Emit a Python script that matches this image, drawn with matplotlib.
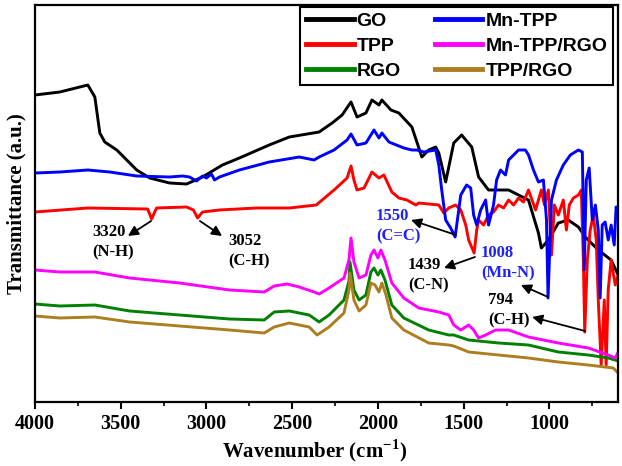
import matplotlib.pyplot as plt
from matplotlib.ticker import MultipleLocator

# spectra (wavenumber, transmittance in a.u. with offsets)
go_wn = [4000, 3855, 3692, 3651, 3622, 3593, 3523, 3407, 3331, 3215, 3116, 3023, 2907, 2808,
         2634, 2517, 2343, 2267, 2209, 2157, 2122, 2070, 2035, 1994, 1977, 1924, 1878, 1802,
         1744, 1704, 1663, 1645, 1605, 1558, 1512, 1453, 1413, 1355, 1238, 1122, 1064, 1047,
         1006, 948, 890, 831, 791, 715, 640, 599]
go_t = [307, 310, 317, 305, 269, 260, 252, 232, 224, 219, 218, 225, 237, 244,
        257, 265, 270, 279, 287, 300, 285, 289, 302, 297, 302, 292, 289, 275,
        245, 252, 255, 249, 220, 259, 267, 255, 225, 212, 212, 202, 169, 154,
        162, 179, 182, 175, 165, 152, 142, 127]

tpp_wn = [4000, 3692, 3343, 3320, 3291, 3116, 3076, 3052, 3023, 2924, 2709, 2517, 2360, 2256,
          2180, 2157, 2140, 2122, 2081, 2035, 1994, 1965, 1919, 1878, 1831, 1779, 1762, 1645,
          1616, 1587, 1547, 1517, 1488, 1471, 1439, 1424, 1413, 1384, 1355, 1326, 1297, 1267,
          1238, 1209, 1180, 1151, 1122, 1081, 1047, 1029, 1006, 988, 971, 948, 919, 901, 884,
          860, 831, 814, 802, 794, 779, 762, 744, 727, 715, 698, 680, 669, 657, 640, 616, 599]
tpp_t = [190, 194, 193, 183, 194, 195, 192, 184, 190, 192, 194, 194, 197, 212,
         224, 236, 222, 212, 214, 230, 224, 227, 210, 204, 202, 197, 199, 197,
         189, 194, 197, 192, 177, 162, 149, 172, 182, 177, 187, 190, 197, 194,
         202, 197, 204, 200, 212, 192, 212, 197, 212, 147, 197, 187, 202, 172, 197,
         204, 207, 212, 142, 70, 142, 172, 187, 162, 102, 37, 102, 37, 112, 142, 117, 127]

rgo_wn = [4000, 3855, 3651, 3448, 3157, 2866, 2663, 2605, 2517, 2401, 2343, 2285, 2198, 2169,
          2163, 2140, 2110, 2070, 2041, 2023, 2000, 1983, 1959, 1919, 1849, 1704, 1587, 1558,
          1471, 1297, 1122, 948, 773, 657, 599]
rgo_t = [98, 96, 97, 91, 87, 83, 82, 90, 91, 87, 80, 87, 102, 121,
         140, 112, 102, 107, 130, 134, 127, 132, 122, 97, 84, 72, 67, 67,
         62, 59, 57, 50, 47, 44, 41]

mntpp_wn = [4000, 3855, 3692, 3564, 3407, 3215, 3140, 3099, 3058, 3023, 3000, 2971, 2953, 2924,
            2808, 2634, 2459, 2372, 2343, 2256, 2180, 2157, 2122, 2070, 2023, 1994, 1977, 1936,
            1849, 1802, 1773, 1733, 1663, 1645, 1628, 1605, 1576, 1550, 1517, 1483, 1459, 1442,
            1424, 1401, 1372, 1355, 1326, 1308, 1285, 1256, 1238, 1209, 1180, 1140, 1122, 1093,
            1064, 1035, 1017, 1008, 988, 959, 919, 878, 831, 808, 797, 785, 768, 750, 732, 715,
            704, 692, 675, 657, 640, 622, 611, 599]
mntpp_t = [229, 230, 232, 230, 226, 225, 226, 225, 221, 226, 224, 228, 222, 225,
           232, 240, 245, 242, 245, 252, 262, 268, 257, 259, 272, 264, 269, 260,
           254, 252, 252, 250, 252, 237, 212, 182, 174, 165, 207, 217, 214, 187,
           177, 192, 202, 177, 197, 222, 232, 227, 242, 247, 252, 252, 247, 232,
           220, 222, 182, 104, 202, 222, 237, 247, 252, 250, 132, 222, 234, 182, 197, 172,
           104, 177, 180, 162, 177, 157, 195, 187]

mnrgo_wn = [4000, 3855, 3651, 3448, 3157, 2866, 2663, 2605, 2529, 2459, 2372, 2343, 2285, 2198,
            2169, 2157, 2140, 2110, 2070, 2041, 2023, 2000, 1983, 1959, 1919, 1849, 1762, 1645,
            1587, 1558, 1517, 1471, 1442, 1413, 1372, 1314, 1238, 1122, 948, 773, 657, 616, 599]
mnrgo_t = [132, 130, 130, 124, 119, 112, 110, 116, 118, 115, 110, 108, 114, 124,
           142, 164, 140, 124, 127, 147, 152, 144, 152, 142, 119, 104, 94, 90,
           87, 77, 72, 77, 72, 64, 67, 72, 72, 65, 59, 54, 47, 44, 50]

tpprgo_wn = [4000, 3855, 3651, 3448, 3157, 2866, 2663, 2605, 2517, 2401, 2355, 2285, 2198, 2169,
             2163, 2140, 2110, 2070, 2041, 2017, 1994, 1977, 1953, 1919, 1849, 1704, 1587, 1558,
             1471, 1297, 1122, 948, 773, 628, 599]
tpprgo_t = [86, 84, 85, 80, 76, 72, 69, 75, 79, 75, 67, 75, 89, 112,
            129, 102, 91, 97, 119, 117, 110, 119, 107, 84, 72, 59, 57, 56,
            50, 47, 44, 40, 37, 34, 29]

plt.rcParams['font.family'] = 'Liberation Serif'
plt.rcParams['font.weight'] = 'bold'
plt.rcParams['mathtext.fontset'] = 'custom'
plt.rcParams['mathtext.rm'] = 'Liberation Serif:bold'
plt.rcParams['mathtext.bf'] = 'Liberation Serif:bold'

fig = plt.figure(figsize=(6.22, 4.66), dpi=100)
ax = fig.add_axes([35 / 622, 1 - 402 / 466, 583 / 622, 397 / 466])

l1, = ax.plot(go_wn, go_t, color='black', lw=2.1)
l2, = ax.plot(tpp_wn, tpp_t, color='#ff0000', lw=2.1)
l3, = ax.plot(rgo_wn, rgo_t, color='#008000', lw=2.1)
l4, = ax.plot(mntpp_wn, mntpp_t, color='#0000ff', lw=2.1)
l5, = ax.plot(mnrgo_wn, mnrgo_t, color='#ff00ff', lw=2.1)
l6, = ax.plot(tpprgo_wn, tpprgo_t, color='#ad7e1f', lw=2.1)

ax.set_xlim(4000, 600)
ax.set_ylim(0, 397)
ax.set_yticks([])
ax.xaxis.set_major_locator(MultipleLocator(500))
ax.xaxis.set_minor_locator(MultipleLocator(250))
ax.tick_params(axis='x', which='major', direction='out', length=5, width=1.5, labelsize=14.5)
ax.tick_params(axis='x', which='minor', direction='out', length=3, width=1.2)
for lab in ax.get_xticklabels():
    lab.set_fontweight('bold')
for s in ax.spines.values():
    s.set_linewidth(1.6)

ax.set_xlabel('Wavenumber (cm$^{\\mathbf{-1}}$)', fontsize=15, fontweight='bold')
ax.xaxis.set_label_coords(0.48, -0.088)
ax.set_ylabel('Transmittance (a.u.)', fontsize=15, fontweight='bold', labelpad=6)

leg = ax.legend([l1, l2, l3, l4, l5, l6],
                ['GO', 'TPP', 'RGO', 'Mn-TPP', 'Mn-TPP/RGO', 'TPP/RGO'],
                ncol=2, loc='upper right', bbox_to_anchor=(0.991, 0.995), borderaxespad=0,
                prop={'family': 'Liberation Sans', 'weight': 'bold', 'size': 14},
                handlelength=2.45, handletextpad=0.15, columnspacing=1.75, labelspacing=0.38,
                borderpad=0.28, fancybox=False, edgecolor='black', framealpha=1)
leg.get_frame().set_linewidth(1.5)
for ln in leg.get_lines():
    ln.set_linewidth(3.5)

# peak labels
blue = '#1f1fff'
ax.text(3668, 160, '3320\n(N-H)', fontsize=12, fontweight='bold', va='center', linespacing=1.4)
ax.text(2874, 151, '3052\n(C-H)', fontsize=12, fontweight='bold', va='center', linespacing=1.4)
ax.text(2011, 176, '1550\n(C=C)', fontsize=12, fontweight='bold', va='center', linespacing=1.4, color=blue)
ax.text(1399, 139, '1008\n(Mn-N)', fontsize=12, fontweight='bold', va='center', linespacing=1.4, color=blue)
ax.text(1825, 127, '1439\n(C-N)', fontsize=12, fontweight='bold', va='center', linespacing=1.4)
ax.text(1358, 92, '794\n(C-H)', fontsize=12, fontweight='bold', va='center', linespacing=1.4)

arr = dict(arrowstyle='-|>', color='black', lw=1.3, mutation_scale=15, shrinkA=0, shrinkB=0)
ax.annotate('', xy=(3458, 166), xytext=(3323, 181), arrowprops=arr)
ax.annotate('', xy=(2909, 166), xytext=(3038, 181), arrowprops=arr)
ax.annotate('', xy=(1807, 182), xytext=(1545, 167), arrowprops=arr)
ax.annotate('', xy=(1166, 117), xytext=(1008, 105), arrowprops=arr)
ax.annotate('', xy=(1615, 134), xytext=(1434, 145), arrowprops=arr)
ax.annotate('', xy=(1101, 85), xytext=(792, 71), arrowprops=arr)

plt.savefig('out.png', dpi=100)
